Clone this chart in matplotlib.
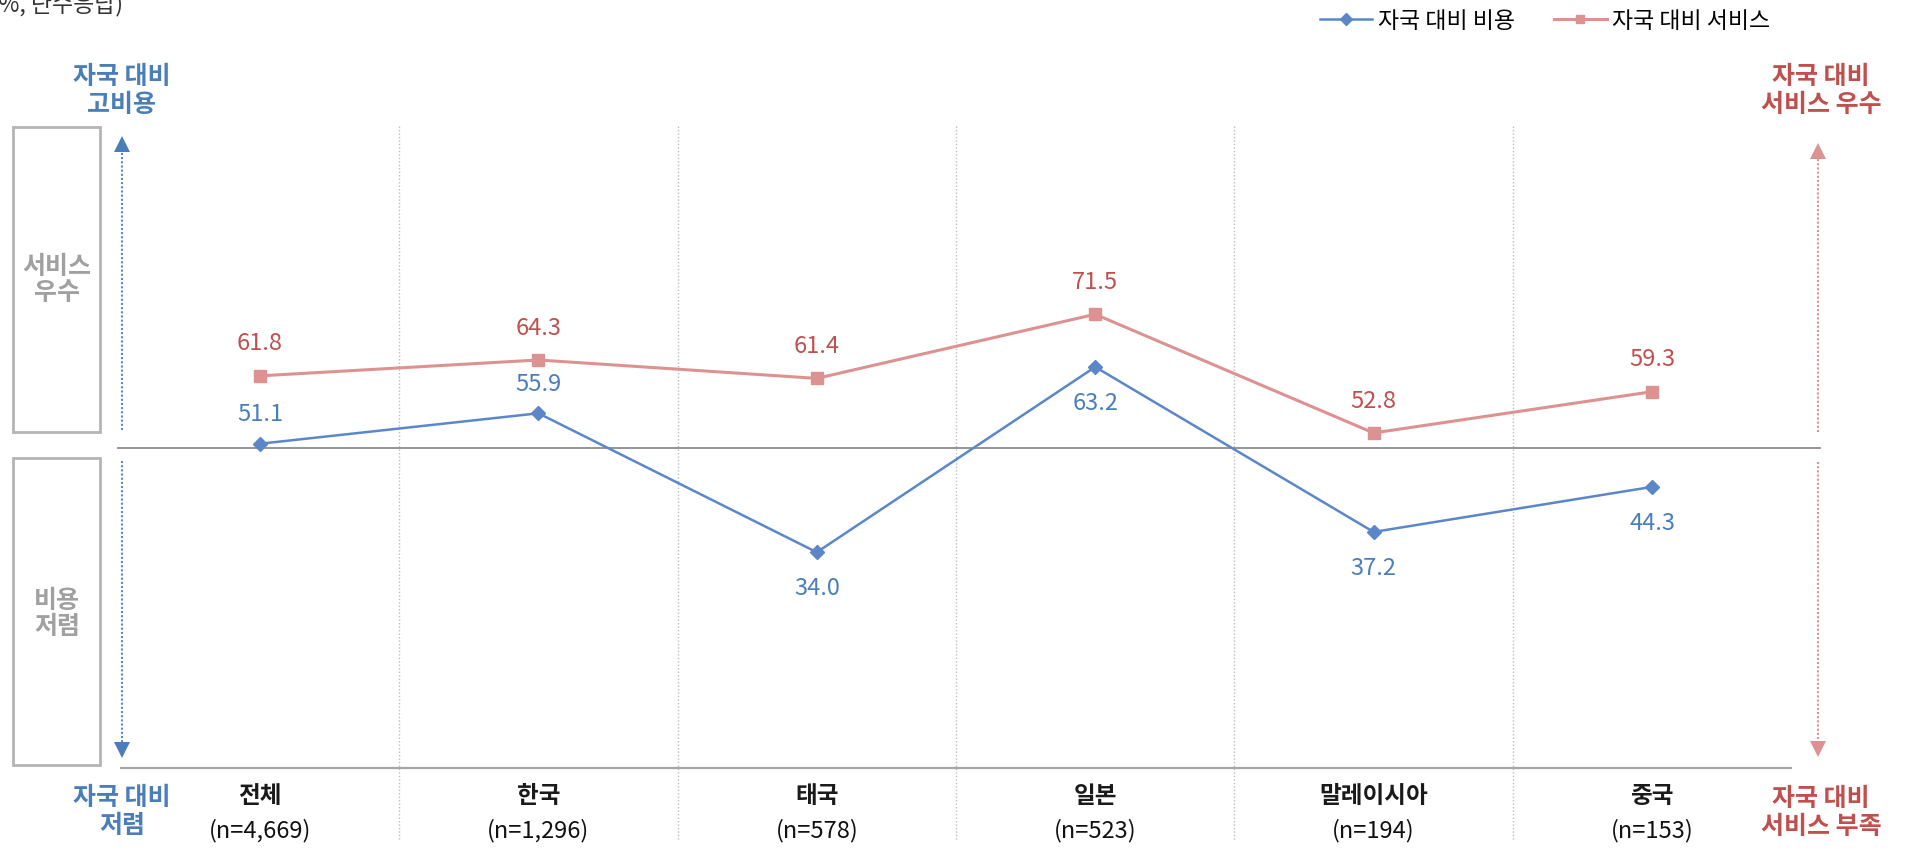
import matplotlib
matplotlib.use("Agg")
import matplotlib.pyplot as plt
from matplotlib.patches import Rectangle

plt.rcParams['font.family'] = ['Noto Sans CJK KR', 'DejaVu Sans']

# 국가별 자국 대비 비용 / 서비스 평가
countries = ['전체', '한국', '태국', '일본', '말레이시아', '중국']
sample_n = ['(n=4,669)', '(n=1,296)', '(n=578)', '(n=523)', '(n=194)', '(n=153)']
cost = [51.1, 55.9, 34.0, 63.2, 37.2, 44.3]
service = [61.8, 64.3, 61.4, 71.5, 52.8, 59.3]
cost_label_above = [True, True, False, False, False, False]

BLUE = '#5b87c9'
BLUE_TXT = '#4a7ebb'
RED = '#dc9291'
RED_TXT = '#c0504d'
GRAY = '#a6a6a6'

W, H = 1906, 867
fig = plt.figure(figsize=(W / 100, H / 100), dpi=100)


def fx(x):
    return x / W


def fy(y):
    return 1 - y / H


ax = fig.add_axes([fx(120.8), fy(768), fx(1670.4), 0.7319])
ax.set_xlim(-0.5, 5.5)
ax.set_ylim(0, 100)
ax.axis('off')

xs = list(range(len(countries)))

# 기준선 & 하단 축
ax.plot([-0.51, 5.603], [50.5, 50.5], color='#8c8c8c', lw=1.3, clip_on=False, zorder=1)
ax.plot([-0.5, 5.5], [0, 0], color=GRAY, lw=1.6, clip_on=False, zorder=1)

# 국가 구분 점선
for sx in [0.5, 1.5, 2.5, 3.5, 4.5]:
    ax.plot([sx, sx], [101.2, -11.3], color='#bdbdbd', lw=1.0, ls=(0, (1, 1.5)),
            clip_on=False, zorder=0)

ax.plot(xs, service, color=RED, lw=2.2, marker='s', ms=8, zorder=3, label='자국 대비 서비스')
ax.plot(xs, cost, color=BLUE, lw=1.8, marker='D', ms=7.5, zorder=4, label='자국 대비 비용')

for x, v in zip(xs, service):
    ax.annotate(f'{v:.1f}', (x, v), xytext=(0, 23), textcoords='offset points',
                ha='center', va='center', fontsize=17, color=RED_TXT)
for x, v, up in zip(xs, cost, cost_label_above):
    ax.annotate(f'{v:.1f}', (x, v), xytext=(0, 21 if up else -26), textcoords='offset points',
                ha='center', va='center', fontsize=17, color=BLUE_TXT)

# 국가명 / 표본 수
for x, c, n in zip(xs, countries, sample_n):
    ax.text(x, -4.4, c, ha='center', va='center', fontsize=17, fontweight='bold',
            color='#1a1a1a', clip_on=False)
    ax.text(x, -9.9, n, ha='center', va='center', fontsize=17, color='#111111', clip_on=False)

# 좌측 화살표 (비용)
lx = -0.497
ax.plot([lx, lx], [53.3, 98.5], color=BLUE, lw=1.5, ls=(0, (1, 1)), clip_on=False)
ax.plot([lx, lx], [48.4, 3.0], color=BLUE, lw=1.5, ls=(0, (1, 1)), clip_on=False)
ax.plot([lx], [98.3], marker='^', ms=11, color=BLUE_TXT, clip_on=False, mew=0)
ax.plot([lx], [2.8], marker='v', ms=11, color=BLUE_TXT, clip_on=False, mew=0)

# 우측 화살표 (서비스)
rx = 5.596
ax.plot([rx, rx], [53.0, 97.5], color=RED, lw=1.5, ls=(0, (1, 1)), clip_on=False)
ax.plot([rx, rx], [48.2, 3.5], color=RED, lw=1.5, ls=(0, (1, 1)), clip_on=False)
ax.plot([rx], [97.3], marker='^', ms=11, color=RED, clip_on=False, mew=0)
ax.plot([rx], [3.0], marker='v', ms=11, color=RED, clip_on=False, mew=0)

# 좌측 구분 박스
for y0, y1, txt, ty in [(127, 432, '서비스\n우수', 280), (458, 765, '비용\n저렴', 614)]:
    fig.patches.append(Rectangle((fx(13), fy(y1)), fx(87), (y1 - y0) / H,
                                 transform=fig.transFigure, fill=False,
                                 edgecolor='#b4b4b4', lw=2))
    fig.text(fx(57), fy(ty), txt, ha='center', va='center', fontsize=18,
             fontweight='bold', color='#a0a0a0', linespacing=1.1)

fig.text(fx(122), fy(91), '자국 대비\n고비용', ha='center', va='center', fontsize=18,
         fontweight='bold', color=BLUE_TXT, linespacing=1.2)
fig.text(fx(122), fy(812), '자국 대비\n저렴', ha='center', va='center', fontsize=18,
         fontweight='bold', color=BLUE_TXT, linespacing=1.2)
fig.text(fx(1821), fy(91), '자국 대비\n서비스 우수', ha='center', va='center', fontsize=18,
         fontweight='bold', color=RED_TXT, linespacing=1.2)
fig.text(fx(1821), fy(813), '자국 대비\n서비스 부족', ha='center', va='center', fontsize=18,
         fontweight='bold', color=RED_TXT, linespacing=1.2)

# 단위 표기 (상단 잘림)
fig.text(fx(123), fy(11), '(단위: %, 단수응답)', ha='right', va='baseline', fontsize=16.5,
         color='#333333')

# 범례
handles, labels = ax.get_legend_handles_labels()
leg = fig.legend(handles[::-1], labels[::-1], loc='center', bbox_to_anchor=(fx(1545), fy(21)),
                 ncol=2, frameon=False, fontsize=16.5, handlelength=2.3, columnspacing=1.7,
                 handletextpad=0.25, markerscale=0.8)

fig.savefig('out.png', dpi=100)
